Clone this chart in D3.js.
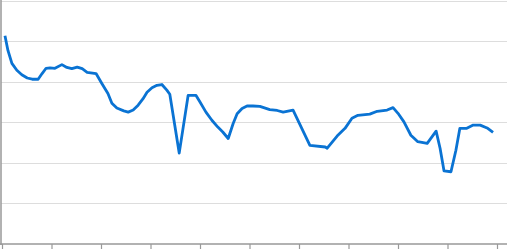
<!DOCTYPE html>
<html>
<head>
<meta charset="utf-8">
<script src="https://cdn.jsdelivr.net/npm/d3@7"></script>
<style>
  html, body { margin: 0; padding: 0; background: #fff; overflow: hidden; }
  svg { display: block; }
</style>
</head>
<body>
<svg id="chart" width="507" height="249"></svg>
<script>
// Data
const xValues = [0.6, 1.2, 2.0, 3.0, 4.0, 5.1, 6.1, 7.3, 8.1, 8.9, 9.7, 10.7, 12.1, 13.1, 14.1, 15.2, 16.2, 17.2, 19.0,
  20.2, 21.4, 22.2, 23.2, 24.6, 25.5, 26.5, 27.5, 28.5, 29.3, 30.3, 31.3, 32.3, 33.3, 33.9, 35.8, 37.6, 39.2,
  40.0, 41.2, 42.4, 43.6, 44.6, 45.7, 46.7, 47.5, 48.5, 49.5, 50.7, 52.1, 54.1, 55.6, 56.8, 58.8, 62.2, 65.3, 65.7,
  67.7, 69.3, 70.7, 71.9, 74.3, 75.8, 77.8, 79.0, 80.0, 81.2, 82.6, 84.0, 85.9, 87.7, 88.5, 89.3, 90.7, 91.7,
  92.5, 93.9, 95.2, 96.6, 98.0, 99.2];
const yValues = [51.3, 47.7, 44.5, 42.8, 41.7, 40.9, 40.6, 40.6, 42.0, 43.3, 43.4, 43.3, 44.2, 43.5, 43.2, 43.6, 43.2, 42.3, 42.0,
  39.5, 37.1, 34.7, 33.5, 32.8, 32.5, 33.0, 34.2, 35.8, 37.4, 38.5, 39.1, 39.3, 37.9, 36.9, 22.4, 36.6, 36.6,
  35.0, 32.5, 30.5, 28.8, 27.6, 26.0, 29.7, 32.1, 33.4, 34.0, 34.0, 33.9, 33.1, 32.9, 32.5, 33.0, 24.3, 23.9, 23.6,
  26.6, 28.5, 31.0, 31.7, 32.0, 32.7, 33.0, 33.6, 32.2, 30.1, 26.8, 25.2, 24.8, 27.8, 23.6, 18.0, 17.8, 23.1,
  28.5, 28.5, 29.3, 29.3, 28.6, 27.5];
const xTicks = [0, 10, 20, 30, 40, 50, 60, 70, 80, 90, 100];
const yTicks = [0, 10, 20, 30, 40, 50, 60];

const data = xValues.map((x, i) => ({ x: x, y: yValues[i] }));

const svg = d3.select("#chart");
const x = d3.scaleLinear().domain([0, 100]).range([2, 497]);
const y = d3.scaleLinear().domain([0, 60]).range([244, 0.5]);

// Horizontal gridlines
svg.append("g")
  .selectAll("line")
  .data(yTicks.filter(d => d > 0))
  .join("line")
  .attr("x1", 1)
  .attr("x2", 507)
  .attr("y1", d => Math.round(y(d)) + 0.5)
  .attr("y2", d => Math.round(y(d)) + 0.5)
  .attr("stroke", "#dddddd")
  .attr("stroke-width", 1);

// Left axis line
svg.append("line")
  .attr("x1", 1).attr("x2", 1)
  .attr("y1", 0).attr("y2", 245)
  .attr("stroke", "#999999")
  .attr("stroke-width", 1.5);

// Bottom axis
const xAxis = d3.axisBottom(x).tickValues(xTicks).tickSize(6).tickFormat("");
const gx = svg.append("g")
  .attr("transform", "translate(0,244)")
  .call(xAxis);
gx.select(".domain").attr("stroke", "#999999").attr("stroke-width", 1.5)
  .attr("d", "M0,0H507");
gx.selectAll(".tick line").attr("stroke", "#999999").attr("stroke-width", 1.2);

// Series line
const line = d3.line()
  .x(d => x(d.x))
  .y(d => y(d.y))
  .curve(d3.curveLinear);

svg.append("path")
  .datum(data)
  .attr("fill", "none")
  .attr("stroke", "#0a73d3")
  .attr("stroke-width", 2.8)
  .attr("stroke-linejoin", "round")
  .attr("stroke-linecap", "butt")
  .attr("d", line);
</script>
</body>
</html>
